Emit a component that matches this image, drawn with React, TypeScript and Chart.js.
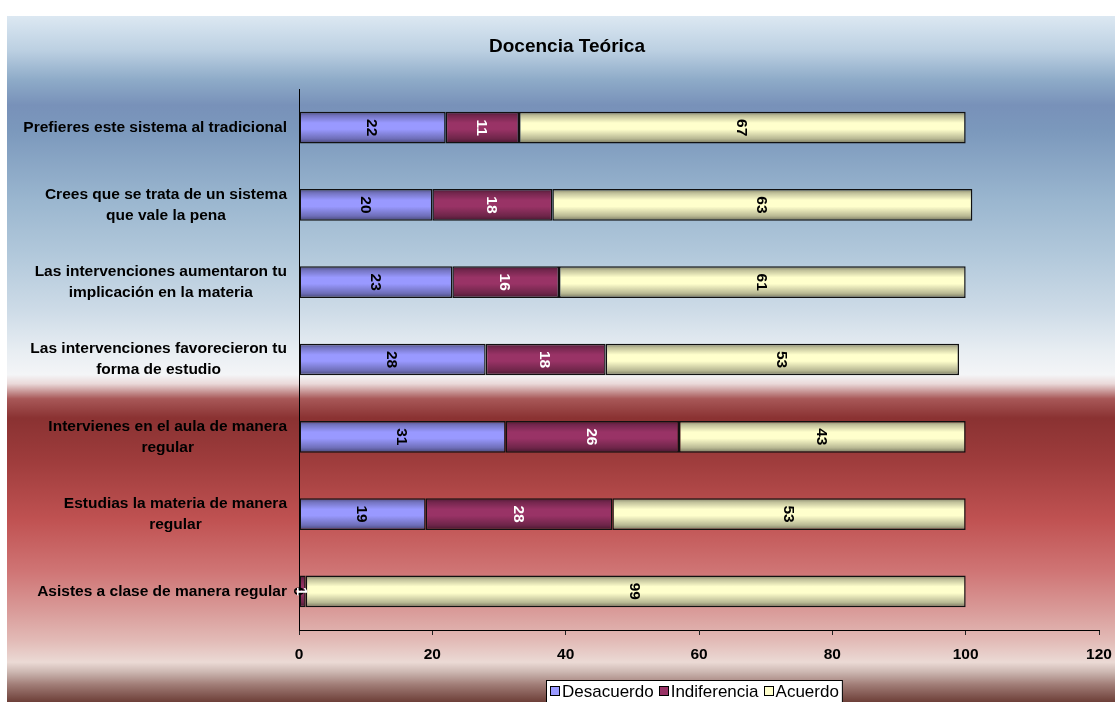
import { useEffect, useRef } from 'react';
import { Chart, registerables } from 'chart.js';

Chart.register(...registerables);

// Survey items (top to bottom)
const categories: (string | string[])[] = [
  'Prefieres este sistema al tradicional',
  ['Crees que se trata de un sistema', 'que vale la pena'],
  ['Las intervenciones aumentaron tu', 'implicación en la materia'],
  ['Las intervenciones favorecieron tu', 'forma de estudio'],
  ['Intervienes en el aula de manera', 'regular'],
  ['Estudias la materia de manera', 'regular'],
  'Asistes a clase de manera regular',
];

// Percentages per answer
const desacuerdo = [22, 20, 23, 28, 31, 19, 0];
const indiferencia = [11, 18, 16, 18, 26, 28, 1];
const acuerdo = [67, 63, 61, 53, 43, 53, 99];

const xTicks = [0, 20, 40, 60, 80, 100, 120];

const seriesNames = ['Desacuerdo', 'Indiferencia', 'Acuerdo'];
const seriesColors = ['#9999ff', '#993366', '#ffffcc'];
const valueLabelColors = ['#000000', '#ffffff', '#000000'];

const FONT = "'Liberation Sans', Arial, sans-serif";
const CAT_PCT = 0.5;
const BAR_PCT = 0.82;

function shade(hex: string, f: number): string {
  const n = parseInt(hex.slice(1), 16);
  const r = Math.round(((n >> 16) & 255) * f);
  const g = Math.round(((n >> 8) & 255) * f);
  const b = Math.round((n & 255) * f);
  return `rgb(${r},${g},${b})`;
}

// Cylinder-like shading across each bar's thickness
function barFill(base: string) {
  return (ctx: any) => {
    const chart = ctx.chart;
    const ys = chart.scales?.y;
    if (!chart.chartArea || !ys || ctx.type !== 'data') return base;
    const cy = ys.getPixelForValue(ctx.dataIndex);
    const h = (ys.height / categories.length) * CAT_PCT * BAR_PCT;
    const g = chart.ctx.createLinearGradient(0, cy - h / 2, 0, cy + h / 2);
    g.addColorStop(0, shade(base, 0.5));
    g.addColorStop(0.12, shade(base, 0.75));
    g.addColorStop(0.35, base);
    g.addColorStop(0.55, base);
    g.addColorStop(0.85, shade(base, 0.72));
    g.addColorStop(1, shade(base, 0.45));
    return g;
  };
}

// Panel background: blue sky fading to white, then deep red to pale rose
const backgroundPlugin = {
  id: 'panelBackground',
  beforeDraw(chart: any) {
    const { ctx, width, height } = chart;
    const g = ctx.createLinearGradient(0, 0, 0, height);
    const stops: [number, string][] = [
      [0, '#dce8f2'],
      [0.05, '#bcd0e2'],
      [0.093, '#8eabc8'],
      [0.13, '#7891b9'],
      [0.166, '#7b98bc'],
      [0.268, '#9ab6cf'],
      [0.356, '#b4cadc'],
      [0.429, '#cddbe7'],
      [0.487, '#e7edf2'],
      [0.523, '#f4f5f7'],
      [0.536, '#ead9d9'],
      [0.558, '#a85858'],
      [0.586, '#8a3232'],
      [0.647, '#9e3c3c'],
      [0.735, '#c05252'],
      [0.808, '#cf7474'],
      [0.866, '#d99a98'],
      [0.91, '#e2bab6'],
      [0.942, '#ebdad5'],
      [0.956, '#cdb8b2'],
      [0.975, '#a07c76'],
      [1, '#6d3f38'],
    ];
    stops.forEach(([o, c]) => g.addColorStop(o, c));
    ctx.save();
    ctx.fillStyle = g;
    ctx.fillRect(0, 0, width, height);
    ctx.restore();
  },
};

// Category names: block right-aligned to the axis, lines centred within the block
const categoryLabelPlugin = {
  id: 'categoryLabels',
  afterDraw(chart: any) {
    const { ctx } = chart;
    const ys = chart.scales.y;
    ctx.save();
    ctx.font = `bold 15.5px ${FONT}`;
    ctx.fillStyle = '#000';
    ctx.textAlign = 'center';
    ctx.textBaseline = 'middle';
    const lineH = 21;
    (chart.data.labels as (string | string[])[]).forEach((lab, i) => {
      const lines = Array.isArray(lab) ? lab : [lab];
      const maxW = Math.max(...lines.map((l) => ctx.measureText(l).width));
      const cx = ys.right - 12 - maxW / 2;
      const cy = ys.getPixelForValue(i);
      lines.forEach((l, k) => {
        ctx.fillText(l, cx, cy + (k - (lines.length - 1) / 2) * lineH);
      });
    });
    ctx.restore();
  },
};

// Value labels, rotated a quarter turn, in the middle of each segment
const valueLabelPlugin = {
  id: 'valueLabels',
  afterDatasetsDraw(chart: any) {
    const { ctx } = chart;
    ctx.save();
    ctx.font = `bold 15.5px ${FONT}`;
    ctx.textAlign = 'center';
    ctx.textBaseline = 'middle';
    chart.data.datasets.forEach((ds: any, di: number) => {
      const meta = chart.getDatasetMeta(di);
      ctx.fillStyle = valueLabelColors[di];
      meta.data.forEach((el: any, i: number) => {
        const { x, y, base } = el.getProps(['x', 'y', 'base'], true);
        ctx.save();
        ctx.translate((x + base) / 2, y);
        ctx.rotate(Math.PI / 2);
        ctx.fillText(String(ds.data[i]), 0, 1);
        ctx.restore();
      });
    });
    ctx.restore();
  },
};

// Boxed legend along the bottom edge
const legendBoxPlugin = {
  id: 'legendBox',
  afterDraw(chart: any) {
    const { ctx } = chart;
    ctx.save();
    ctx.font = `17px ${FONT}`;
    ctx.textBaseline = 'middle';
    ctx.textAlign = 'left';
    const sq = 9;
    const gap = 3;
    const between = 5;
    const pad = 3.5;
    const items = chart.data.datasets.map((d: any, i: number) => ({
      text: d.label as string,
      color: seriesColors[i],
      w: ctx.measureText(d.label).width,
    }));
    const total =
      items.reduce((s: number, it: any) => s + sq + gap + it.w, 0) +
      between * (items.length - 1) +
      pad * 2;
    const centerX = 686.5;
    const left = Math.round(centerX - total / 2) + 0.5;
    const top = 664.5;
    const cy = 675;
    ctx.fillStyle = '#ffffff';
    ctx.fillRect(left, top, total, 40);
    ctx.strokeStyle = '#000';
    ctx.lineWidth = 1;
    ctx.strokeRect(left, top, total, 40);
    let x = left + pad;
    items.forEach((it: any) => {
      ctx.fillStyle = it.color;
      ctx.fillRect(Math.round(x) + 0.5, cy - 4.5, sq, sq);
      ctx.strokeStyle = '#000';
      ctx.strokeRect(Math.round(x) + 0.5, cy - 4.5, sq, sq);
      x += sq + gap;
      ctx.fillStyle = '#000';
      ctx.fillText(it.text, x, cy + 1);
      x += it.w + between;
    });
    ctx.restore();
  },
};

export default function App() {
  const ref = useRef<HTMLCanvasElement | null>(null);

  useEffect(() => {
    if (!ref.current) return;
    const values = [desacuerdo, indiferencia, acuerdo];
    const chart = new Chart(ref.current, {
      type: 'bar',
      data: {
        labels: categories as any,
        datasets: values.map((v, i) => ({
          label: seriesNames[i],
          data: v,
          backgroundColor: barFill(seriesColors[i]),
          borderColor: '#111111',
          borderWidth: 1.5,
          borderSkipped: false,
          categoryPercentage: CAT_PCT,
          barPercentage: BAR_PCT,
        })),
      },
      options: {
        indexAxis: 'y',
        responsive: false,
        animation: false,
        devicePixelRatio: 1,
        layout: { padding: { left: 28, right: 16, top: 0, bottom: 32 } },
        plugins: {
          legend: { display: false },
          tooltip: { enabled: false },
          title: {
            display: true,
            text: 'Docencia Teórica',
            color: '#000',
            font: { family: FONT, size: 19, weight: 'bold', lineHeight: 22 / 19 },
            padding: { top: 20, bottom: 31 },
          },
        },
        scales: {
          x: {
            stacked: true,
            min: 0,
            max: 120,
            afterBuildTicks: (s: any) => {
              s.ticks = xTicks.map((v) => ({ value: v }));
            },
            afterFit: (s: any) => {
              s.height = 40;
              s.paddingLeft = 0;
              s.paddingRight = 0;
            },
            grid: {
              display: true,
              drawOnChartArea: false,
              drawTicks: true,
              tickLength: 5,
              tickColor: '#222',
            },
            border: { display: true, color: '#000', width: 1 },
            ticks: {
              color: '#000',
              padding: 10,
              maxRotation: 0,
              font: { family: FONT, size: 15.5, weight: 'bold' },
            },
          },
          y: {
            stacked: true,
            grid: { display: false },
            border: { display: true, color: '#000', width: 1 },
            ticks: { display: false },
            afterFit: (s: any) => {
              s.width = 264;
            },
          },
        },
      },
      plugins: [backgroundPlugin, valueLabelPlugin, categoryLabelPlugin, legendBoxPlugin],
    });
    return () => chart.destroy();
  }, []);

  return (
    <div style={{ position: 'absolute', left: 7, top: 16, width: 1108, height: 686, overflow: 'hidden' }}>
      <canvas ref={ref} width={1108} height={686} style={{ display: 'block' }} />
    </div>
  );
}
